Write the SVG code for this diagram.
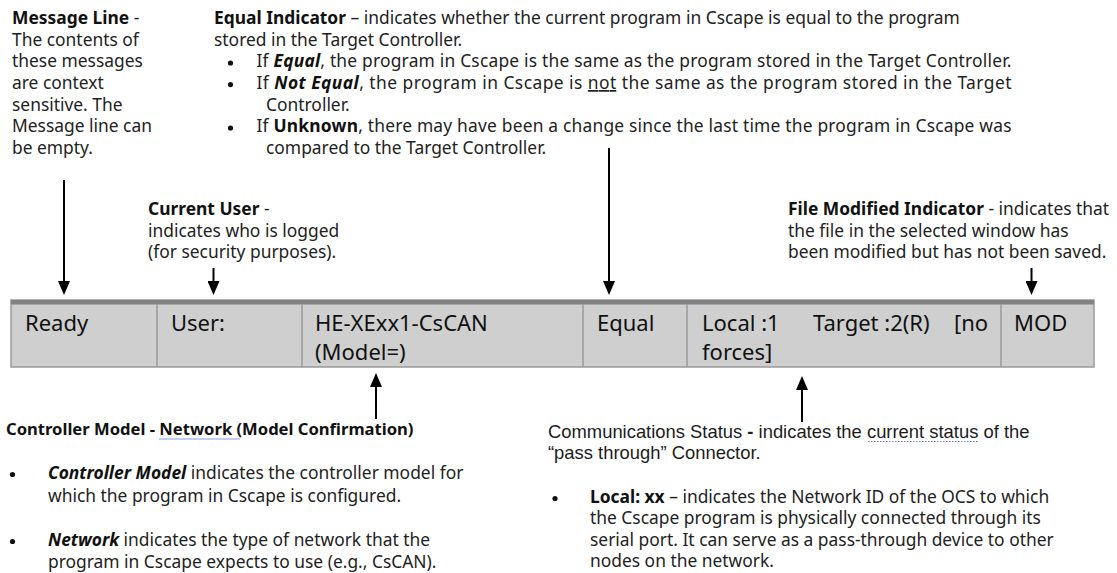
<svg xmlns="http://www.w3.org/2000/svg" width="1117" height="573" viewBox="0 0 1117 573">
<defs>
<style>
.t{font-family:"Noto Sans","Open Sans",sans-serif;font-size:17.4px;fill:#222}
.b{font-weight:bold;fill:#111}
.bi{font-weight:bold;font-style:italic;fill:#111}
.sb{font-weight:bold;font-size:16.6px;fill:#111}
.bar{font-family:"Noto Sans","Open Sans",sans-serif;font-size:22px;fill:#111}
.ar{font-family:"Liberation Sans",Arial,sans-serif;font-size:18.4px;fill:#1c1c1c}
.cell{fill:#cfcfcf}
.div{stroke:#9a9a9a;stroke-width:1.5}
.dot{fill:#111}
.conn{stroke:#000;stroke-width:2;fill:none;marker-end:url(#ah)}
</style>
<marker id="ah" markerUnits="userSpaceOnUse" viewBox="0 0 14 12" refX="1" refY="6" markerWidth="14" markerHeight="12" orient="auto">
<path d="M0,0 L14,6 L0,12 z" fill="#000"/>
</marker>
</defs>
<rect width="1117" height="573" fill="#fff"/>

<g id="status-bar">
<rect class="cell" x="11" y="300" width="1083" height="67" stroke="#9a9a9a" stroke-width="1.5"/>
<rect x="11" y="300" width="1083" height="4.5" fill="#828282"/>
<line class="div" x1="157" y1="304" x2="157" y2="367"/>
<line class="div" x1="302" y1="304" x2="302" y2="367"/>
<line class="div" x1="583" y1="304" x2="583" y2="367"/>
<line class="div" x1="687" y1="304" x2="687" y2="367"/>
<line class="div" x1="1001" y1="304" x2="1001" y2="367"/>
</g>
<g id="cell-ready"><text class="bar" x="25" y="331">Ready</text></g>
<g id="cell-user"><text class="bar" x="171" y="331">User:</text></g>
<g id="cell-model"><text class="bar" x="315" y="331">HE-XExx1-CsCAN</text><text class="bar" x="315" y="360">(Model=)</text></g>
<g id="cell-equal"><text class="bar" x="597" y="331">Equal</text></g>
<g id="cell-comms"><text class="bar" x="702" y="331">Local :1</text><text class="bar" x="813" y="331">Target :2(R)</text><text class="bar" x="954" y="331">[no</text><text class="bar" x="702" y="360">forces]</text></g>
<g id="cell-mod"><text class="bar" x="1014" y="331">MOD</text></g>

<g id="note-message-line">
<text class="t" x="12" y="24"><tspan class="b">Message Line</tspan> -</text>
<text class="t" x="12" y="45.7">The contents of</text>
<text class="t" x="12" y="67.4">these messages</text>
<text class="t" x="12" y="89">are context</text>
<text class="t" x="12" y="110.7">sensitive. The</text>
<text class="t" x="12" y="132.4">Message line can</text>
<text class="t" x="12" y="154">be empty.</text>
</g>

<g id="note-equal-indicator">
<text class="t" x="214" y="24"><tspan class="b">Equal Indicator</tspan> – indicates whether the current program in Cscape is equal to the program</text>
<text class="t" x="214" y="45.7">stored in the Target Controller.</text>
<circle class="dot" cx="230.5" cy="63" r="2.6"/>
<text class="t" x="256.5" y="67.4" textLength="755" lengthAdjust="spacing">If <tspan class="bi">Equal</tspan>, the program in Cscape is the same as the program stored in the Target Controller.</text>
<circle class="dot" cx="230.5" cy="84.6" r="2.6"/>
<text class="t" x="256.5" y="89" textLength="755" lengthAdjust="spacing">If <tspan class="bi">Not Equal</tspan>, the program in Cscape is <tspan text-decoration="underline">not</tspan> the same as the program stored in the Target</text>
<text class="t" x="266" y="110.7">Controller.</text>
<circle class="dot" cx="230.5" cy="128" r="2.6"/>
<text class="t" x="256.5" y="132.4" textLength="755" lengthAdjust="spacing">If <tspan class="b">Unknown</tspan>, there may have been a change since the last time the program in Cscape was</text>
<text class="t" x="266" y="154">compared to the Target Controller.</text>
</g>

<g id="note-current-user">
<text class="t" x="148" y="215"><tspan class="b">Current User</tspan> -</text>
<text class="t" x="148" y="237">indicates who is logged</text>
<text class="t" x="148" y="258">(for security purposes).</text>
</g>

<g id="note-file-modified">
<text class="t" x="788" y="215"><tspan class="b">File Modified Indicator</tspan> - indicates that</text>
<text class="t" x="788" y="237">the file in the selected window has</text>
<text class="t" x="788" y="258">been modified but has not been saved.</text>
</g>

<g id="note-controller-model">
<text class="t sb" x="6" y="435">Controller Model - Network  (Model Confirmation)</text>
<line x1="159" y1="439" x2="240" y2="439" stroke="#7f9fe0" stroke-width="1.2"/>
<circle class="dot" cx="12.5" cy="474.5" r="2.6"/>
<text class="t" x="48" y="479"><tspan class="bi">Controller Model</tspan> indicates the controller model for</text>
<text class="t" x="48" y="502">which the program in Cscape is configured.</text>
<circle class="dot" cx="12.5" cy="541.5" r="2.6"/>
<text class="t" x="48" y="546"><tspan class="bi">Network</tspan> indicates the type of network that the</text>
<text class="t" x="48" y="568">program in Cscape expects to use (e.g., CsCAN).</text>
</g>

<g id="note-comms-status">
<text class="ar" x="548" y="438">Communications Status<tspan font-weight="bold"> - </tspan>indicates the current status of the</text>
<line x1="868" y1="441.5" x2="979" y2="441.5" stroke="#6a7fd0" stroke-width="1.2" stroke-dasharray="1.5,1.5"/>
<text class="ar" x="548" y="459">“pass through” Connector.</text>
<circle class="dot" cx="555" cy="498.5" r="2.6"/>
<text class="t" x="590" y="503"><tspan class="b">Local: xx</tspan> – indicates the Network ID of the OCS to which</text>
<text class="t" x="590" y="524">the Cscape program is physically connected through its</text>
<text class="t" x="590" y="546">serial port. It can serve as a pass-through device to other</text>
<text class="t" x="590" y="567">nodes on the network.</text>
</g>

<g id="connectors">
<path class="conn" d="M64,180 V282"/>
<path class="conn" d="M213.5,268 V282"/>
<path class="conn" d="M609,148 V282"/>
<path class="conn" d="M1031.5,268 V282"/>
<path class="conn" d="M376,419 V386"/>
<path class="conn" d="M802,422 V389"/>
</g>
</svg>
